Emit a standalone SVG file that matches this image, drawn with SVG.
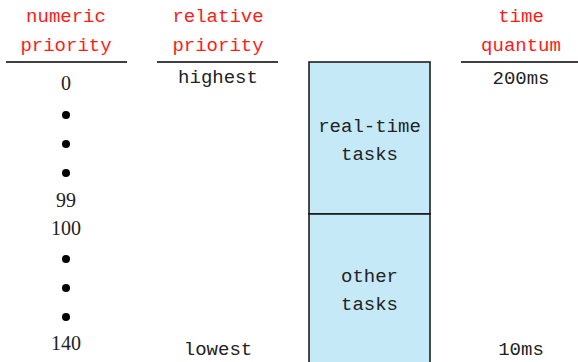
<svg xmlns="http://www.w3.org/2000/svg" width="578" height="362" viewBox="0 0 578 362">
  <style>
    .head { font-family: "Liberation Mono", "DejaVu Sans Mono", monospace; font-size: 19px; fill: #ff1a1a; text-anchor: middle; }
    .mono { font-family: "Liberation Mono", "DejaVu Sans Mono", monospace; font-size: 19px; fill: #222; text-anchor: middle; }
    .num { font-family: "Liberation Serif", "Times New Roman", serif; font-size: 20px; fill: #222; text-anchor: middle; }
    .rule { stroke: #000; stroke-width: 1.5; }
    .band { fill: #c6e9f8; stroke: #111; stroke-width: 1.5; }
    .dot { fill: #000; }
  </style>

  <!-- column headings -->
  <g id="headings">
    <text class="head" x="66" y="22">numeric</text>
    <text class="head" x="66" y="51">priority</text>
    <text class="head" x="218" y="22">relative</text>
    <text class="head" x="218" y="51">priority</text>
    <text class="head" x="521" y="22">time</text>
    <text class="head" x="521" y="51">quantum</text>
  </g>

  <!-- heading underlines -->
  <g id="rules">
    <line class="rule" x1="6" y1="62" x2="127" y2="62"/>
    <line class="rule" x1="157" y1="62" x2="278" y2="62"/>
    <line class="rule" x1="461" y1="62" x2="578" y2="62"/>
  </g>

  <!-- numeric priority scale -->
  <g id="numeric-scale">
    <text class="num" x="66" y="90">0</text>
    <circle class="dot" cx="66" cy="115" r="4"/>
    <circle class="dot" cx="66" cy="144" r="4"/>
    <circle class="dot" cx="66" cy="173" r="4"/>
    <text class="num" x="66" y="207">99</text>
    <text class="num" x="66" y="235">100</text>
    <circle class="dot" cx="66" cy="259" r="4"/>
    <circle class="dot" cx="66" cy="288" r="4"/>
    <circle class="dot" cx="66" cy="317" r="4"/>
    <text class="num" x="66" y="350">140</text>
  </g>

  <!-- relative priority -->
  <g id="relative-scale">
    <text class="mono" x="218" y="83">highest</text>
    <text class="mono" x="218" y="355">lowest</text>
  </g>

  <!-- task classes -->
  <g id="real-time-tasks">
    <rect class="band" x="309" y="62" width="121" height="152"/>
    <text class="mono" x="369.5" y="132">real-time</text>
    <text class="mono" x="369.5" y="160">tasks</text>
  </g>
  <g id="other-tasks">
    <rect class="band" x="309" y="214" width="121" height="152"/>
    <text class="mono" x="369.5" y="282">other</text>
    <text class="mono" x="369.5" y="310">tasks</text>
  </g>

  <!-- time quantum -->
  <g id="quantum-scale">
    <text class="mono" x="521" y="84">200ms</text>
    <text class="mono" x="521" y="355">10ms</text>
  </g>
</svg>
